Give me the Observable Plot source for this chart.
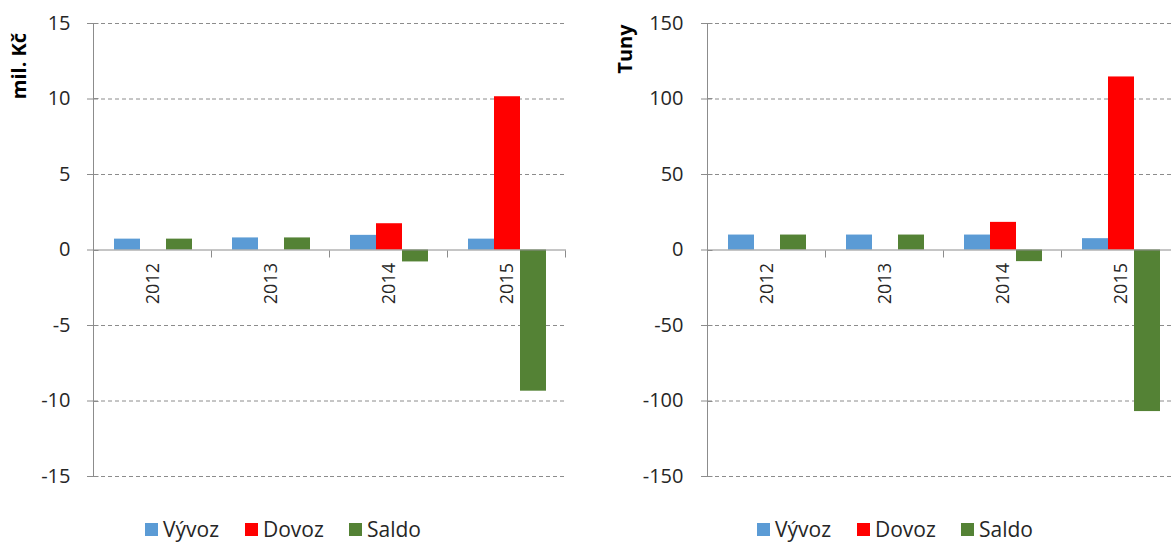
<!DOCTYPE html>
<html><head><meta charset="utf-8">
<script src="https://cdn.jsdelivr.net/npm/d3@7"></script>
<script src="https://cdn.jsdelivr.net/npm/@observablehq/plot@0.6"></script>
<style>
html,body{margin:0;padding:0;background:#fff;overflow:hidden}
#wrap{position:relative;width:1171px;height:542px;overflow:hidden;font-family:"Open Sans",sans-serif;color:#262626}
.chart{position:absolute;top:0}
.ytitle{position:absolute;font-weight:bold;font-size:20px;transform:translate(-50%,-50%) rotate(-90deg);white-space:nowrap;color:#000;line-height:22px}
.leg{position:absolute;top:519px;height:21px;font-size:21px;display:flex;align-items:center;white-space:nowrap;line-height:21px}
.leg i{display:inline-block;width:13px;height:13px;margin-right:5px}
</style></head><body><div id="wrap"></div>
<script>
const years = ["2012", "2013", "2014", "2015"];
const series = ["Vývoz", "Dovoz", "Saldo"];
const colors = ["#5B9BD5", "#FF0000", "#548235"];

// mil. Kč
const vyvozMil = [0.72, 0.80, 0.97, 0.72];
const dovozMil = [0, 0, 1.74, 10.15];
const saldoMil = [0.72, 0.80, -0.79, -9.35];
const ticksMil = [-15, -10, -5, 0, 5, 10, 15];

// Tuny
const vyvozTuny = [9.9, 9.9, 9.9, 7.5];
const dovozTuny = [0, 0, 18.3, 114.6];
const saldoTuny = [9.9, 9.9, -7.7, -107];
const ticksTuny = [-150, -100, -50, 0, 50, 100, 150];

const wrap = document.getElementById("wrap");

function makeChart(vals, ticks, o) {
  const data = [];
  years.forEach((yr, i) => series.forEach((s, j) => data.push({year: yr, series: s, value: vals[j][i]})));
  const grid = ticks.filter(t => t !== 0);
  const chart = Plot.plot({
    width: o.width, height: 500,
    marginLeft: o.marginLeft, marginRight: o.marginRight, marginTop: 23, marginBottom: 24,
    style: {fontFamily: '"Open Sans", sans-serif', fontSize: "20px", color: "#262626", background: "transparent", overflow: "visible"},
    fx: {domain: years, padding: 0, axis: null},
    x: {domain: series, paddingInner: 0, paddingOuter: 0.74, axis: null},
    y: {domain: [ticks[0], ticks[ticks.length - 1]], axis: null},
    color: {domain: series, range: colors},
    marks: [
      Plot.ruleY(grid, {stroke: "#8c8c8c", strokeDasharray: "4,3", strokeWidth: 1}),
      Plot.barY(data, {fx: "year", x: "series", y: "value", fill: "series"}),
      Plot.ruleY([0], {stroke: "#8c8c8c"}),
      Plot.axisY({ticks, tickSize: 7, tickPadding: o.tickPadding, fontSize: 20, stroke: "#8c8c8c", tickFormat: d => String(d), label: null}),
      Plot.text(years, {fx: d => d, y: () => 0, text: d => d, rotate: -90, textAnchor: "end", lineAnchor: "middle", dy: 13, fontSize: 18, fill: "#262626"})
    ]
  });
  // axis line, cross ticks, category boundary ticks from the plot's scales
  const fxS = chart.scale("fx"), yS = chart.scale("y");
  const g = d3.select(chart).append("g").attr("stroke", "#8c8c8c").attr("fill", "none");
  const x0 = Math.round(fxS.apply(years[0])) - 0.5;
  const yTop = yS.apply(ticks[ticks.length - 1]), yBot = yS.apply(ticks[0]);
  g.append("line").attr("x1", x0).attr("x2", x0).attr("y1", yTop).attr("y2", yBot);
  ticks.forEach(t => {
    const yy = Math.round(yS.apply(t)) + 0.5;
    g.append("line").attr("x1", x0).attr("x2", x0 + 5).attr("y1", yy).attr("y2", yy);
  });
  const y0 = Math.round(yS.apply(0)) + 0.5;
  years.forEach(yr => {
    const xr = Math.round(fxS.apply(yr) + fxS.bandwidth) - 0.5;
    g.append("line").attr("x1", xr).attr("x2", xr).attr("y1", y0).attr("y2", y0 + 7);
  });
  chart.classList.add("chart");
  chart.style.left = o.left + "px";
  return chart;
}

wrap.appendChild(makeChart([vyvozMil, dovozMil, saldoMil], ticksMil, {width: 600, marginLeft: 93, marginRight: 34, tickPadding: 17, left: 0}));
wrap.appendChild(makeChart([vyvozTuny, dovozTuny, saldoTuny], ticksTuny, {width: 591, marginLeft: 107, marginRight: 10, tickPadding: 18, left: 600}));

function addTitle(text, x, y) {
  const d = document.createElement("div");
  d.className = "ytitle";
  d.textContent = text;
  d.style.left = x + "px";
  d.style.top = y + "px";
  wrap.appendChild(d);
}
addTitle("mil. Kč", 19, 66);
addTitle("Tuny", 625, 49);

function addLegend(xs) {
  series.forEach((s, j) => {
    const d = document.createElement("div");
    d.className = "leg";
    d.style.left = xs[j] + "px";
    const sw = document.createElement("i");
    sw.style.background = colors[j];
    d.appendChild(sw);
    d.appendChild(document.createTextNode(s));
    wrap.appendChild(d);
  });
}
addLegend([145, 245, 349]);
addLegend([757, 857, 961]);
</script></body></html>
